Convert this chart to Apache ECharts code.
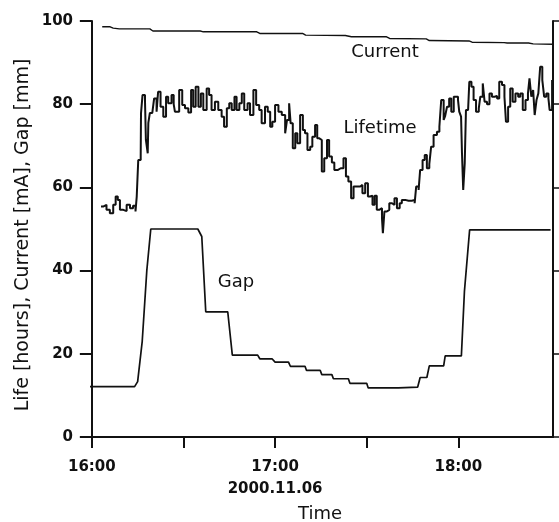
<!DOCTYPE html>
<html>
<head>
<meta charset="utf-8">
<script src="https://cdn.jsdelivr.net/npm/echarts@6/dist/echarts.min.js"></script>
<style>html,body{margin:0;padding:0;background:#fff}#c{width:559px;height:522px}</style>
</head>
<body>
<div id="c"></div>
<script>
// Time in minutes after 16:00
const xTickValues = [0, 30, 60, 90, 120];
const xLabelValues = [0, 60, 120];
const xLabelTexts = ['16:00', '17:00\n2000.11.06', '18:00'];
const yTickValues = [0, 20, 40, 60, 80, 100];

const currentData = [[3.4,98.6],[6,98.6],[7,98.3],[9,98.1],[19,98.1],[20,97.6],[35.5,97.6],[36.5,97.4],[54,97.4],[55,97.0],[69,97.0],[70,96.6],[83,96.5],[85,96.2],[96.5,96.2],[97.5,95.8],[109.5,95.7],[110.5,95.3],[123.5,95.2],[124.5,94.9],[135,94.8],[136,94.7],[143,94.7],[144.5,94.5],[151,94.4]];

const gapData = [[-0.6,12.1],[14,12.1],[15,13.3],[16.5,23],[18,40],[19.3,50],[34.7,50],[36,48.2],[37.3,30.1],[44.5,30.1],[46,19.7],[54.3,19.7],[55,18.8],[59,18.8],[60,18],[64.4,18],[65,17],[69.8,17],[70.3,16],[74.8,16],[75.3,15],[78.6,15],[79.1,14],[84,14],[84.5,12.9],[90,12.9],[90.5,11.8],[100.4,11.8],[101,12],[106.7,12],[107.5,14.3],[109.7,14.3],[110.5,17.1],[115.2,17.1],[115.7,19.5],[121,19.5],[122,35],[123.7,49.8],[150.2,49.8]];

const lifetimeData = [[3.0,55.4],[3.7,55.8],[4.8,54.6],[5.9,53.8],[7.0,55.8],[7.8,57.8],[8.5,57.0],[9.2,54.6],[10.3,54.3],[11.4,55.8],[12.5,55.0],[13.5,55.6],[14.3,54.2],[14.7,57.8],[15.2,66.6],[16.0,67.4],[16.1,77.8],[16.6,82.2],[17.4,81.0],[17.7,71.4],[18.3,68.2],[18.5,75.5],[19.0,77.9],[19.8,77.5],[20.4,81.4],[21.2,78.2],[21.7,83.0],[22.5,79.4],[23.4,77.0],[24.3,81.8],[25.0,80.2],[26.1,82.2],[26.8,80.0],[27.2,78.2],[28.6,83.4],[29.6,79.8],[30.5,79.0],[31.6,78.0],[32.5,83.4],[33.2,79.4],[34.0,84.2],[34.9,79.4],[35.7,82.6],[36.5,78.6],[37.6,83.8],[38.4,82.2],[39.2,78.6],[40.3,80.6],[41.4,78.6],[42.5,77.0],[43.3,74.6],[44.2,79.0],[45.0,80.2],[45.8,78.6],[46.7,81.8],[47.4,78.6],[48.3,80.2],[49.1,82.6],[49.9,78.6],[51.0,80.2],[51.8,77.4],[52.9,83.4],[53.8,79.8],[54.8,78.6],[55.6,75.4],[56.7,79.4],[57.6,78.2],[58.4,74.6],[59.1,75.8],[60.0,79.8],[61.1,78.2],[62.2,77.4],[63.3,73.0],[63.9,76.2],[64.6,80.2],[65.1,75.4],[65.8,69.4],[66.6,73.0],[67.3,70.6],[68.2,77.4],[69.1,73.8],[69.8,73.0],[70.6,69.0],[71.5,69.8],[72.2,72.2],[73.1,75.0],[73.8,71.8],[74.5,71.4],[75.3,63.8],[76.1,67.0],[77.0,71.4],[77.7,67.4],[78.6,66.0],[79.4,64.2],[80.6,64.6],[81.5,64.6],[82.4,67.0],[83.2,62.6],[84.0,61.4],[84.9,57.4],[85.7,60.2],[86.8,60.2],[87.9,60.6],[88.6,58.6],[89.5,61.0],[90.4,57.8],[91.1,58.0],[91.9,55.8],[92.6,58.0],[93.3,54.6],[94.1,55.0],[95.0,52.6],[95.3,49.0],[95.8,54.2],[96.6,54.6],[97.4,56.2],[98.3,55.8],[99.1,57.4],[99.9,55.0],[100.8,56.2],[101.5,57.0],[102.6,56.8],[103.7,56.8],[104.8,57.0],[105.7,56.2],[106.2,60.2],[107.0,59.4],[107.5,64.2],[108.3,66.6],[109.0,67.8],[109.7,64.6],[110.5,65.6],[111.1,69.8],[111.9,72.6],[113.0,73.4],[113.8,74.6],[114.4,81.0],[115.2,76.2],[115.7,77.2],[116.3,79.4],[117.0,81.4],[117.7,78.2],[118.5,81.8],[119.0,81.8],[119.9,81.0],[120.3,78.2],[120.9,77.0],[121.2,68.2],[121.6,59.4],[122.1,65.8],[122.5,78.6],[123.2,78.8],[123.6,85.4],[124.3,84.2],[125.0,81.0],[125.8,78.2],[126.7,79.0],[127.2,81.8],[128.0,85.0],[128.6,80.6],[129.4,80.0],[130.2,82.6],[131.0,81.8],[131.9,82.0],[132.7,81.4],[133.4,85.4],[134.3,84.6],[135.1,81.8],[135.6,75.8],[136.3,79.4],[137.0,83.8],[137.8,80.6],[138.7,82.6],[139.6,81.8],[140.3,82.6],[141.1,78.6],[142.0,81.0],[142.8,82.6],[143.3,86.2],[143.9,81.8],[144.5,83.4],[145.0,77.4],[145.6,81.0],[146.2,82.6],[146.8,89.0],[147.5,85.8],[148.1,81.8],[148.8,82.6],[149.5,81.4],[149.9,78.6],[150.7,85.8]];

const FONT = 'DejaVu Sans';
const INK = '#111';

const chart = echarts.init(document.getElementById('c'), null, {renderer: 'canvas'});
chart.setOption({
  animation: false,
  backgroundColor: '#fff',
  grid: {left: 90, right: 6, top: 21, bottom: 85},
  xAxis: {
    type: 'value', min: -0.6, max: 151,
    axisLine: {show: true, lineStyle: {color: INK, width: 2}},
    axisTick: {show: true, customValues: xTickValues, length: 11, inside: false, lineStyle: {color: INK, width: 2}},
    axisLabel: {
      customValues: xLabelValues, margin: 19, color: INK,
      fontFamily: FONT, fontWeight: 'bold', fontSize: 15, lineHeight: 22,
      formatter: function (v) { const i = xLabelValues.indexOf(v); return i >= 0 ? xLabelTexts[i] : ''; }
    },
    splitLine: {show: false}
  },
  yAxis: [{
    type: 'value', min: 0, max: 100, interval: 20, position: 'left',
    axisLine: {show: true, lineStyle: {color: INK, width: 2}},
    axisTick: {show: true, length: 12, lineStyle: {color: INK, width: 2}},
    axisLabel: {margin: 17, color: INK, fontFamily: FONT, fontWeight: 'bold', fontSize: 15},
    splitLine: {show: false}
  }, {
    type: 'value', min: 0, max: 100, interval: 20, position: 'right',
    axisLine: {show: true, lineStyle: {color: INK, width: 2}},
    axisTick: {show: true, length: 6, lineStyle: {color: INK, width: 1.5}},
    axisLabel: {show: false},
    splitLine: {show: false}
  }],
  series: [
    {name: 'Current', type: 'line', data: currentData, showSymbol: false, symbol: 'none',
     lineStyle: {color: INK, width: 1.4}},
    {name: 'Lifetime', type: 'line', step: 'end', data: lifetimeData, showSymbol: false, symbol: 'none',
     lineStyle: {color: INK, width: 2}},
    {name: 'Gap', type: 'line', data: gapData, showSymbol: false, symbol: 'none',
     lineStyle: {color: INK, width: 1.7}}
  ],
  graphic: [
    {type: 'text', x: 385, y: 52, style: {text: 'Current', fill: INK, font: '18px "DejaVu Sans"', textAlign: 'center', textVerticalAlign: 'middle'}},
    {type: 'text', x: 380, y: 128, style: {text: 'Lifetime', fill: INK, font: '18px "DejaVu Sans"', textAlign: 'center', textVerticalAlign: 'middle'}},
    {type: 'text', x: 236, y: 282, style: {text: 'Gap', fill: INK, font: '18px "DejaVu Sans"', textAlign: 'center', textVerticalAlign: 'middle'}},
    {type: 'text', x: 320, y: 514, style: {text: 'Time', fill: INK, font: '18px "DejaVu Sans"', textAlign: 'center', textVerticalAlign: 'middle'}},
    {type: 'text', x: 23, y: 235, rotation: Math.PI / 2, style: {text: 'Life [hours], Current [mA], Gap [mm]', fill: INK, font: '19px "DejaVu Sans"', textAlign: 'center', textVerticalAlign: 'middle'}}
  ]
});
</script>
</body>
</html>
